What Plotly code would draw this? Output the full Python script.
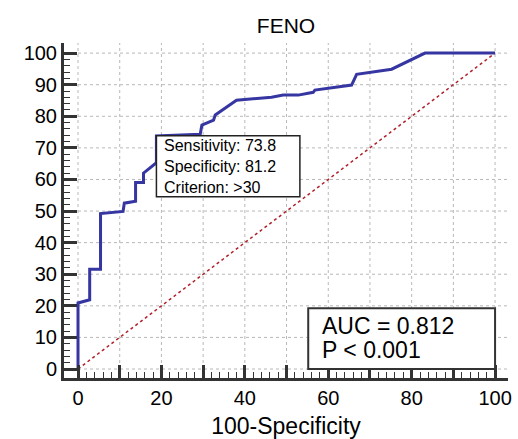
import plotly.graph_objects as go

# ---- data ----
fpr = [0, 0, 2.8, 2.8, 5.4, 5.4, 10.8, 11.1, 13.8, 13.8, 15.7, 15.7, 18.8, 18.8,
       29.3, 29.7, 32.5, 32.9, 38.0, 46.4, 49.2, 52.8, 56.4, 56.8, 65.6, 66.8,
       75.2, 83.2, 100]
tpr = [0, 20.9, 21.9, 31.6, 31.6, 49.2, 49.9, 52.5, 53.1, 59.0, 59.0, 62.0, 65.3, 73.8,
       74.3, 77.2, 78.8, 80.4, 85.1, 86.0, 86.7, 86.7, 87.6, 88.3, 89.9, 93.3,
       94.9, 100, 100]
ref_x = [0, 100]
ref_y = [0, 100]
crit_fpr = 18.8
sensitivity = 73.8
specificity = 81.2
criterion = ">30"
auc = 0.812
p_text = "P < 0.001"
title_text = "FENO"
x_title = "100-Specificity"
grid_vals = list(range(0, 101, 10))
minor_vals = [v for v in range(0, 101, 2) if v % 10]

FONT = "Liberation Sans, Arial, sans-serif"
XMAX, YMAX = 103.1, 103.2

fig = go.Figure()
fig.add_trace(go.Scatter(x=ref_x, y=ref_y, mode="lines",
                         line=dict(color="#b0202a", width=1.5, dash="dot"),
                         hoverinfo="skip", showlegend=False))
fig.add_trace(go.Scatter(x=fpr, y=tpr, mode="lines",
                         line=dict(color="#3636a2", width=3),
                         showlegend=False))

shapes = []
for v in grid_vals:
    shapes.append(dict(type="line", xref="x", yref="y", x0=0, x1=XMAX, y0=v, y1=v,
                       line=dict(color="#b8b8b8", width=1, dash="dot"), layer="below"))
    shapes.append(dict(type="line", xref="x", yref="y", x0=v, x1=v, y0=0, y1=YMAX,
                       line=dict(color="#b8b8b8", width=1, dash="dot"), layer="below"))
# criterion box anchored at criterion point
shapes.append(dict(type="rect", xref="x", yref="y", x0=crit_fpr, x1=53.2,
                   y0=54.5, y1=sensitivity, fillcolor="white",
                   line=dict(color="#222", width=1.5), layer="above"))
# AUC box
shapes.append(dict(type="rect", xref="x", yref="y", x0=55.2, x1=100, y0=0, y1=19.2,
                   fillcolor="white", line=dict(color="#333", width=2), layer="above"))

annotations = []
box_text = "<br>".join([f"Sensitivity: {sensitivity}", f"Specificity: {specificity}",
                        f"Criterion: {criterion}"])
annotations.append(dict(x=20.2, y=64.1, xref="x", yref="y", text=box_text, showarrow=False,
                        xanchor="left", yanchor="middle", align="left",
                        font=dict(family=FONT, size=16, color="black")))
for txt, yy in zip([f"AUC = {auc}", p_text], [13.7, 5.9]):
    annotations.append(dict(x=58.0, y=yy, xref="x", yref="y", text=txt, showarrow=False,
                            xanchor="left", yanchor="middle",
                            font=dict(family=FONT, size=23, color="black")))

axis_common = dict(
    showline=True, linewidth=3, linecolor="#333", mirror=False,
    ticks="inside", ticklen=13, tickwidth=2.5, tickcolor="#333",
    tickmode="linear", tick0=0, dtick=10,
    showgrid=False, zeroline=False, automargin=False,
    tickfont=dict(family=FONT, size=20, color="black"),
    minor=dict(tickmode="array", tickvals=minor_vals, ticks="inside",
               ticklen=6, tickwidth=1.2, tickcolor="#333", showgrid=False),
)

fig.update_layout(
    width=518, height=439,
    margin=dict(l=64, r=10, t=43, b=61, autoexpand=False),
    paper_bgcolor="white", plot_bgcolor="white",
    title=dict(text=title_text, x=0.5, xref="paper", y=0.942, yref="container",
               xanchor="center", yanchor="middle",
               font=dict(family=FONT, size=21, color="black")),
    xaxis=dict(range=[-3.36, XMAX], ticklabelstep=2,
               title=dict(text=x_title, font=dict(family=FONT, size=23, color="black"),
                          standoff=16),
               **axis_common),
    yaxis=dict(range=[-2.85, YMAX], **axis_common),
    shapes=shapes,
    annotations=annotations,
)

fig.write_html("out.html")
